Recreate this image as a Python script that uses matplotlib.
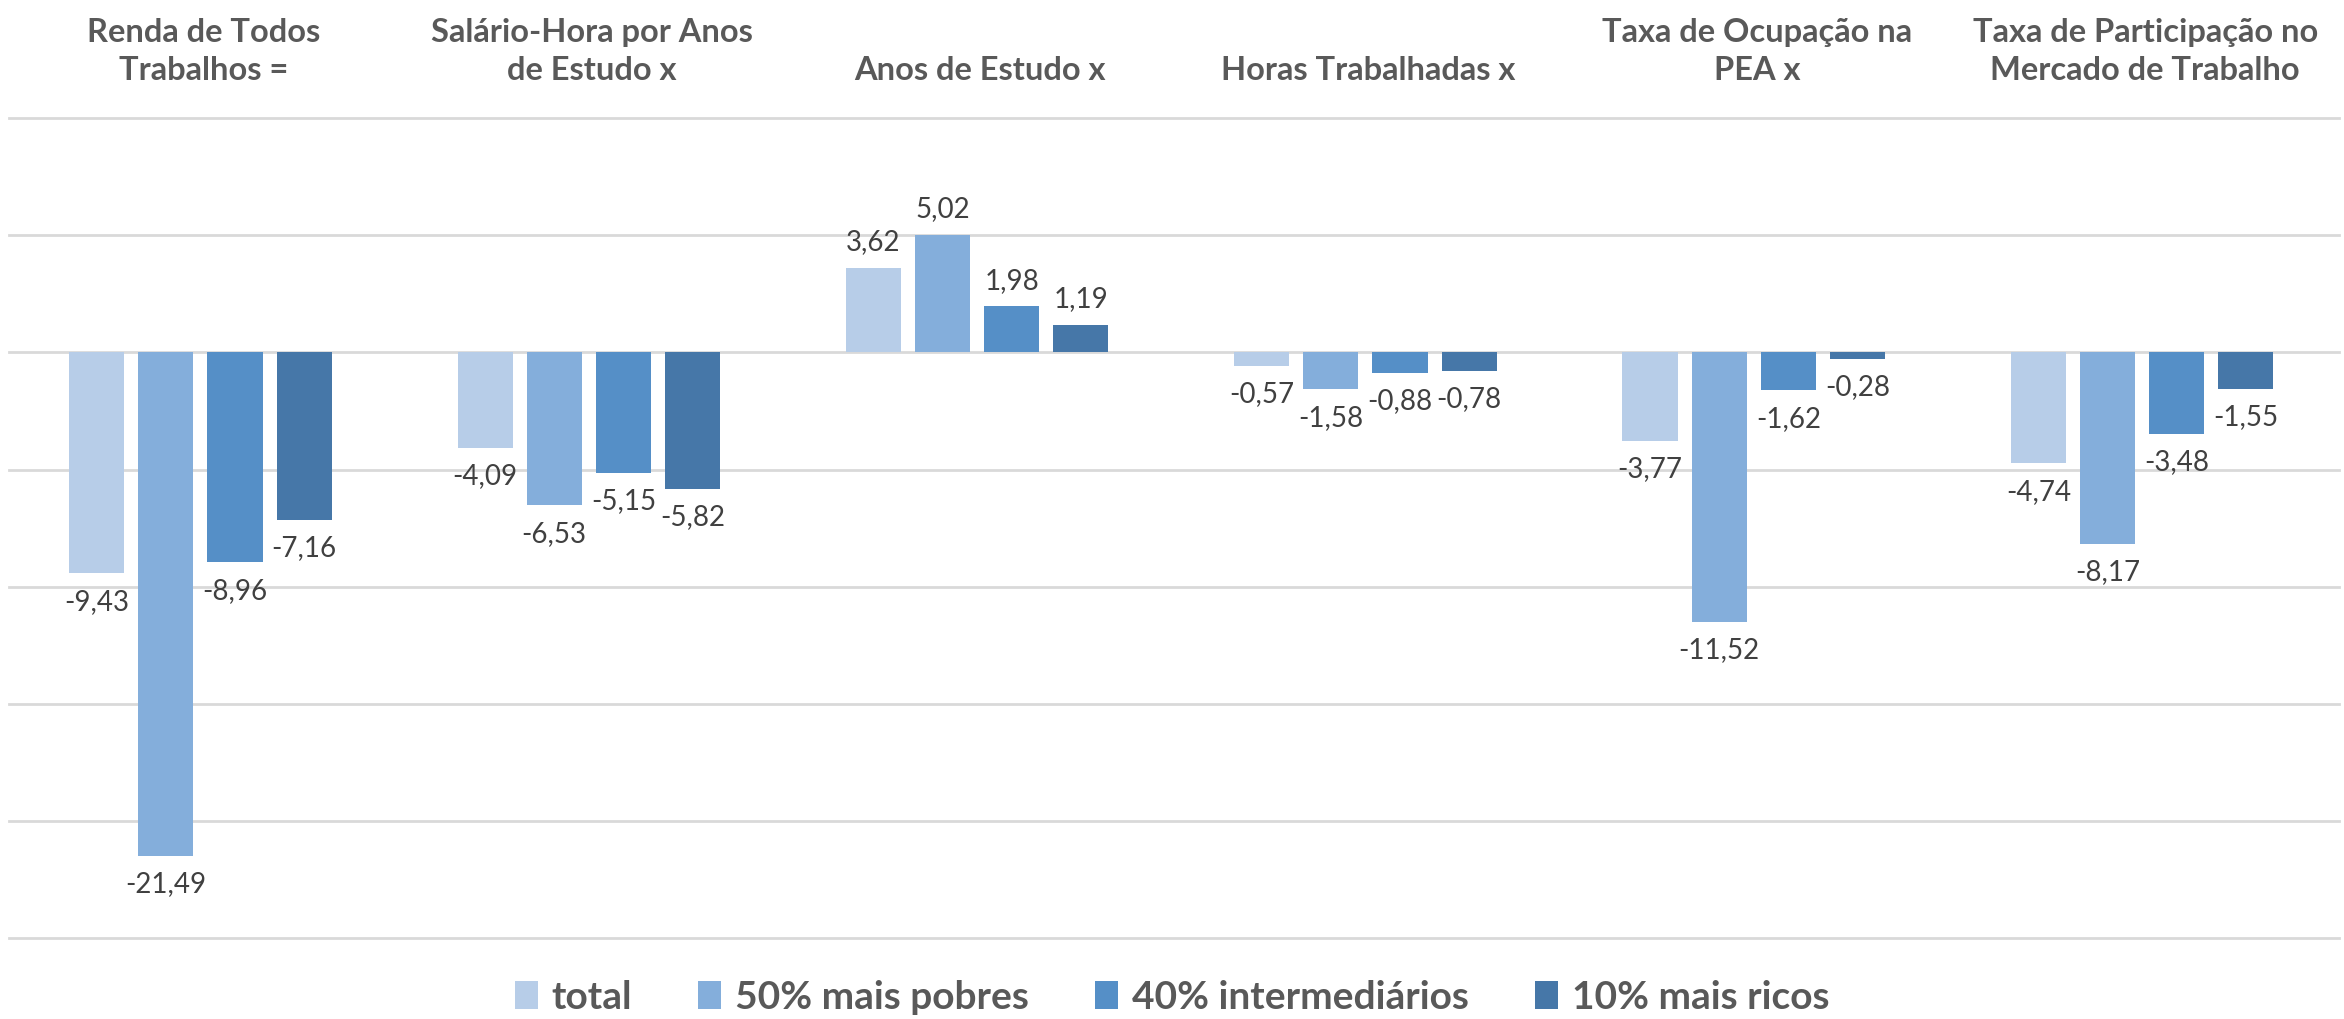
import matplotlib
matplotlib.use("Agg")
import matplotlib.pyplot as plt
import numpy as np
from matplotlib.patches import Patch

categories = ["Renda de Todos\nTrabalhos =",
              "Salário-Hora por Anos\nde Estudo x",
              "Anos de Estudo x",
              "Horas Trabalhadas x",
              "Taxa de Ocupação na\nPEA x",
              "Taxa de Participação no\nMercado de Trabalho"]
series_names = ["total", "50% mais pobres", "40% intermediários", "10% mais ricos"]
total = [-9.43, -4.09, 3.62, -0.57, -3.77, -4.74]
pobres50 = [-21.49, -6.53, 5.02, -1.58, -11.52, -8.17]
interm40 = [-8.96, -5.15, 1.98, -0.88, -1.62, -3.48]
ricos10 = [-7.16, -5.82, 1.19, -0.78, -0.28, -1.55]
series = [total, pobres50, interm40, ricos10]
colors = ["#B7CDE8", "#84AEDB", "#558FC7", "#4677A8"]

plt.rcParams['font.family'] = ['Lato', 'DejaVu Sans']

fig = plt.figure(figsize=(23.44, 10.19), dpi=100)
ax = fig.add_axes([0.004, 0.0795, 0.994, 0.8045])

x = np.arange(len(categories))
bw = 0.142
step = 0.178
for i, (vals, c) in enumerate(zip(series, colors)):
    xs = x + (i - 1.5) * step - 0.008
    ax.bar(xs, vals, width=bw, color=c, zorder=3)
    for xi, v in zip(xs, vals):
        lab = f"{v:.2f}".replace(".", ",")
        if v >= 0:
            ax.annotate(lab, (xi, v), xytext=(0, 9), textcoords="offset points",
                        ha="center", va="bottom", fontsize=20, color="#404040")
        else:
            ax.annotate(lab, (xi, v), xytext=(0, -11), textcoords="offset points",
                        ha="center", va="top", fontsize=20, color="#404040")

ax.set_ylim(-25, 10)
ax.set_xlim(-0.5, len(categories) - 0.5)
ax.set_yticks(np.arange(-25, 11, 5))
ax.yaxis.grid(True, color="#D9D9D9", linewidth=2, zorder=0)
for gl in ax.get_ygridlines():
    gl.set_clip_on(False)
ax.set_yticklabels([])
ax.tick_params(axis="y", length=0)
ax.xaxis.tick_top()
ax.set_xticks(x)
ax.set_xticklabels(categories, fontsize=23.5, fontweight="bold", color="#595959",
                   linespacing=1.35)
ax.tick_params(axis="x", length=0, pad=24)
for s in ax.spines.values():
    s.set_visible(False)

handles = [Patch(facecolor=c, label=n) for c, n in zip(colors, series_names)]
leg = fig.legend(handles=handles, loc="lower center", bbox_to_anchor=(0.5, -0.03),
                 ncol=4, frameon=False, handlelength=0.6, handleheight=0.75,
                 handletextpad=0.35, columnspacing=1.7,
                 prop={"size": 28, "weight": "bold"})
for t in leg.get_texts():
    t.set_color("#595959")

fig.savefig("out.png", dpi=100)
